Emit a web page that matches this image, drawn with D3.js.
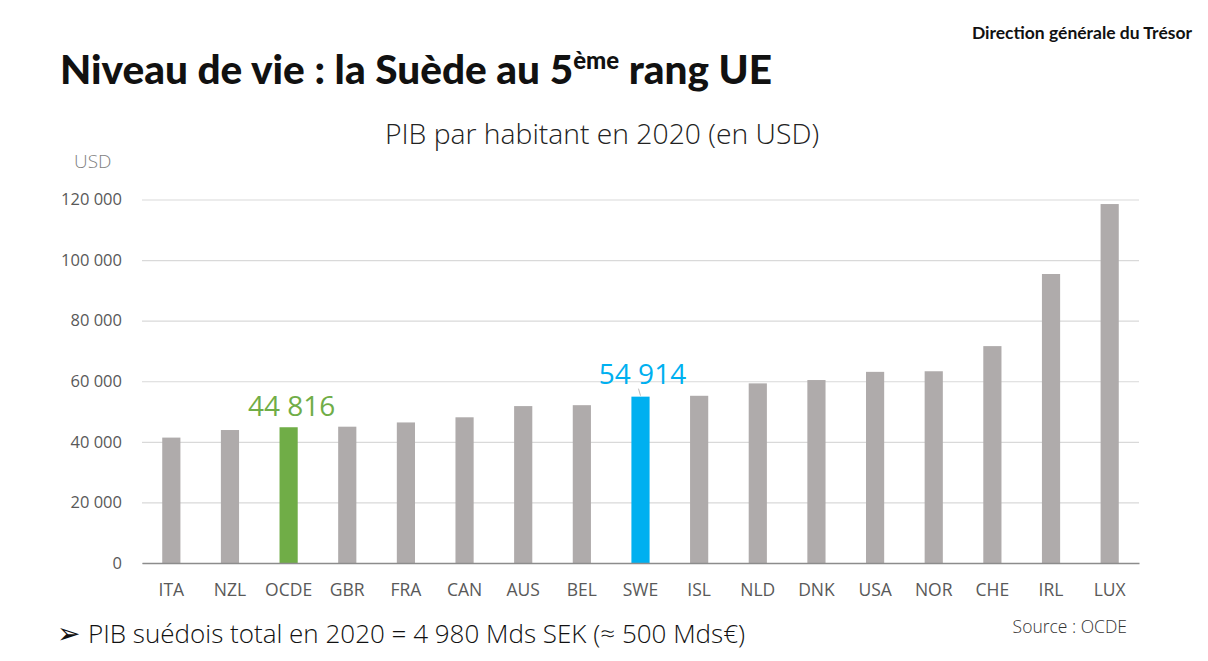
<!DOCTYPE html>
<html><head><meta charset="utf-8">
<script src="https://cdn.jsdelivr.net/npm/d3@7"></script>
<style>
html,body{margin:0;padding:0;background:#fff;}
svg{display:block;}
</style></head>
<body>
<svg id="chart" width="1208" height="661"></svg>
<script>
const categories = ["ITA","NZL","OCDE","GBR","FRA","CAN","AUS","BEL","SWE","ISL","NLD","DNK","USA","NOR","CHE","IRL","LUX"];
const values = [41400, 43900, 44816, 45000, 46400, 48100, 51800, 52100, 54914, 55200, 59300, 60400, 63100, 63300, 71600, 95400, 118500];
const highlight = {"OCDE": "#70ad47", "SWE": "#00b0f0"};
const yTicks = [0, 20000, 40000, 60000, 80000, 100000, 120000];

const svg = d3.select("#chart");
const fmt = v => d3.format(",")(v).replace(/,/g, " ");

const x = d3.scaleBand().domain(categories).range([142, 1139]).paddingInner(0.69).paddingOuter(0.345);
const y = d3.scaleLinear().domain([0, 120000]).range([563, 199.5]);

// header
svg.append("text").attr("x", 1192).attr("y", 39).attr("text-anchor", "end")
  .attr("font-family", "Lato, 'Open Sans', sans-serif").attr("font-weight", 700)
  .attr("font-size", 17.5).attr("fill", "#111").text("Direction générale du Trésor");

const title = svg.append("text").attr("x", 60).attr("y", 84)
  .attr("font-family", "Lato, sans-serif").attr("font-weight", 900)
  .attr("font-size", 40.5).attr("fill", "#111");
title.append("tspan").text("Niveau de vie : la Suède au 5");
title.append("tspan").attr("font-size", 24).attr("dy", -15).text("ème");
title.append("tspan").attr("dy", 15).text(" rang UE");

svg.append("text").attr("x", 602).attr("y", 144).attr("text-anchor", "middle")
  .attr("font-family", "'Open Sans', sans-serif").attr("font-weight", 300)
  .attr("font-size", 28.3).attr("fill", "#222").text("PIB par habitant en 2020 (en USD)");

svg.append("text").attr("x", 74).attr("y", 168)
  .attr("font-family", "'Open Sans', sans-serif").attr("font-weight", 300)
  .attr("font-size", 19).attr("fill", "#7f7f7f").text("USD");

// gridlines
const gAxis = svg.append("g").attr("transform", "translate(142,0)")
  .call(d3.axisLeft(y).tickValues(yTicks).tickSize(-(1139 - 142)).tickPadding(20).tickFormat(fmt));
gAxis.select(".domain").remove();
gAxis.selectAll(".tick line").attr("stroke", "#d9d9d9").attr("stroke-width", 1.2);
gAxis.selectAll(".tick text").attr("font-family", "'Open Sans', sans-serif")
  .attr("font-size", 16.5).attr("fill", "#595959");

// bars
svg.append("g").selectAll("rect").data(categories).join("rect")
  .attr("x", d => x(d)).attr("width", x.bandwidth())
  .attr("y", (d, i) => y(values[i])).attr("height", (d, i) => y(0) - y(values[i]))
  .attr("fill", d => highlight[d] || "#afabab");

// baseline axis
const xAxis = svg.append("g").attr("transform", "translate(0,563)")
  .call(d3.axisBottom(x).tickSize(0).tickPadding(21));
xAxis.select(".domain").attr("stroke", "#8c8c8c").attr("stroke-width", 1.3);
xAxis.selectAll(".tick text").attr("font-family", "'Open Sans', sans-serif")
  .attr("font-size", 17.5).attr("fill", "#595959");

// value labels
const iO = categories.indexOf("OCDE");
svg.append("text").attr("x", x("OCDE") + x.bandwidth() / 2 + 3).attr("y", y(values[iO]) - 11)
  .attr("text-anchor", "middle").attr("font-family", "'Open Sans', sans-serif")
  .attr("font-size", 28).attr("fill", highlight.OCDE).text(fmt(values[iO]));
const iS = categories.indexOf("SWE");
const sx = x("SWE") + x.bandwidth() / 2;
svg.append("line").attr("x1", sx - 2).attr("y1", y(values[iS]) - 8).attr("x2", sx).attr("y2", y(values[iS]) - 1)
  .attr("stroke", "#a6a6a6").attr("stroke-width", 0.8);
svg.append("text").attr("x", sx + 2).attr("y", y(values[iS]) - 13)
  .attr("text-anchor", "middle").attr("font-family", "'Open Sans', sans-serif")
  .attr("font-size", 28).attr("fill", highlight.SWE).text(fmt(values[iS]));

// footer
svg.append("text").attr("x", 57).attr("y", 643)
  .attr("font-family", "'DejaVu Sans', sans-serif").attr("font-size", 28).attr("fill", "#111").text("➢");
svg.append("text").attr("x", 88).attr("y", 643)
  .attr("font-family", "'Open Sans', sans-serif").attr("font-weight", 300)
  .attr("font-size", 26).attr("fill", "#111").text("PIB suédois total en 2020 = 4 980 Mds SEK (≈ 500 Mds€)");
svg.append("text").attr("x", 1127).attr("y", 633).attr("text-anchor", "end")
  .attr("font-family", "'Open Sans', sans-serif").attr("font-weight", 300)
  .attr("font-size", 17.5).attr("fill", "#333").text("Source : OCDE");
</script>
</body></html>
